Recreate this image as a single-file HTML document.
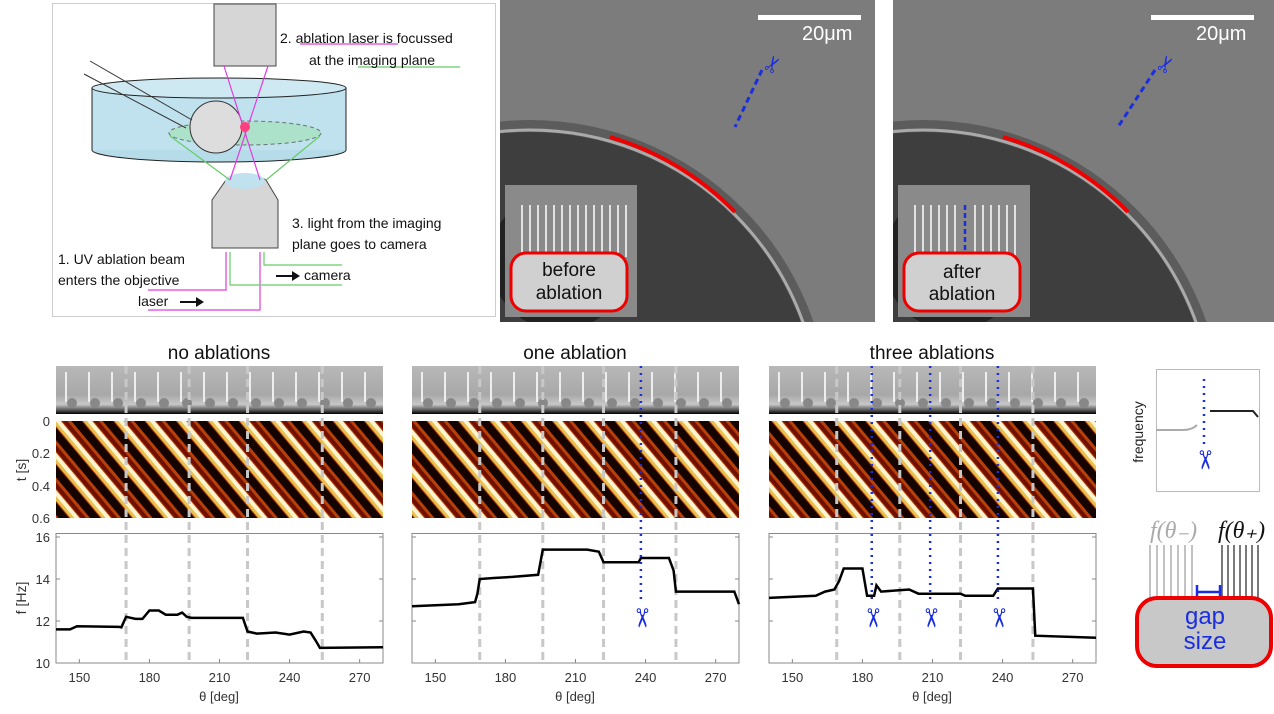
<!DOCTYPE html>
<html><head><meta charset="utf-8"><style>
html,body{margin:0;padding:0;background:#fff;}
svg{display:block;font-family:"Liberation Sans",sans-serif;}
</style></head><body>
<svg id="s" width="1274" height="714" viewBox="0 0 1274 714" xmlns="http://www.w3.org/2000/svg">
<defs>
<pattern id="kym" width="24" height="24" patternUnits="userSpaceOnUse" patternTransform="rotate(-40)">
<rect width="24" height="24" fill="#b8400a"/>
<rect width="8" height="24" fill="#150300"/>
<rect x="9" width="3" height="24" fill="#e8c050"/>
<rect x="12" width="4" height="24" fill="#fff4d0"/>
<rect x="17" width="4" height="24" fill="#701000"/>
</pattern>
<linearGradient id="strip" x1="0" y1="0" x2="0" y2="1">
<stop offset="0" stop-color="#b8b8b8"/><stop offset="0.6" stop-color="#a8a8a8"/><stop offset="0.8" stop-color="#c8c8c8"/><stop offset="0.92" stop-color="#555"/><stop offset="1" stop-color="#000"/>
</linearGradient>
<clipPath id="c1"><rect x="500" y="0" width="375" height="322"/></clipPath>
<clipPath id="c2"><rect x="893" y="0" width="381" height="322"/></clipPath>
</defs>

<!-- top-left diagram -->
<rect x="52.5" y="3.5" width="443" height="313" fill="#fff" stroke="#ccc"/>
<ellipse cx="219" cy="150" rx="127" ry="12" fill="#b6dcea" stroke="#222"/>
<rect x="92" y="88" width="254" height="62" fill="#bfe2ee"/>
<ellipse cx="219" cy="88" rx="127" ry="10" fill="#cfe9f3" stroke="#222"/>
<line x1="92" y1="88" x2="92" y2="150" stroke="#222"/><line x1="346" y1="88" x2="346" y2="150" stroke="#222"/>
<ellipse cx="245" cy="133" rx="76" ry="12" fill="#a7e3c0" opacity="0.8" stroke="#555" stroke-dasharray="4,3"/>
<circle cx="216" cy="127" r="26" fill="#ddd" stroke="#333"/>
<line x1="90" y1="61" x2="192" y2="120" stroke="#333"/><line x1="84" y1="74" x2="186" y2="128" stroke="#333"/>
<rect x="214" y="4" width="62" height="62" fill="#d6d6d6" stroke="#444"/>
<path d="M226 180 Q245 168 266 180 L278 200 L278 248 L212 248 L212 200 Z" fill="#d6d6d6" stroke="#444"/>
<ellipse cx="245" cy="181" rx="20" ry="8" fill="#bfe2ee"/>
<g stroke="#e03ce0" fill="none" stroke-width="1.2"><line x1="224" y1="66" x2="260" y2="180"/><line x1="268" y1="66" x2="230" y2="180"/>
<polyline points="226,252 226,290 148,290"/><polyline points="260,252 260,310 148,310"/><line x1="300" y1="44" x2="398" y2="44"/></g>
<g stroke="#66cc66" fill="none" stroke-width="1.2"><line x1="170" y1="136" x2="230" y2="180"/><line x1="320" y1="136" x2="266" y2="180"/>
<polyline points="230,252 230,285 342,285"/><polyline points="264,252 264,265 342,265"/><line x1="358" y1="67" x2="460" y2="67"/></g>
<circle cx="245" cy="127" r="5" fill="#ff4080"/>
<g font-size="14" fill="#111"><text x="280" y="43">2. ablation laser is focussed</text><text x="309" y="65">at the imaging plane</text>
<text x="292" y="228">3. light from the imaging</text><text x="292" y="249">plane goes to camera</text>
<text x="58" y="264">1. UV ablation beam</text><text x="58" y="285">enters the objective</text>
<text x="138" y="306">laser</text><text x="304" y="280">camera</text></g>
<path d="M180 301 h16 v-4 l8 5 -8 5 v-4 h-16z" fill="#111"/><path d="M276 275 h16 v-4 l8 5 -8 5 v-4 h-16z" fill="#111"/>

<!-- micrographs -->
<g clip-path="url(#c1)">
<rect x="500" y="0" width="375" height="322" fill="#7c7c7c"/>
<circle cx="530" cy="420" r="300" fill="#5c5c5c"/>
<circle cx="530" cy="420" r="288" fill="#3e3e3e"/>
<circle cx="560" cy="260" r="70" fill="#222"/>
<circle cx="530" cy="420" r="290" fill="none" stroke="#aaa" stroke-width="3"/>
</g>
<g clip-path="url(#c2)">
<rect x="893" y="0" width="381" height="322" fill="#7c7c7c"/>
<circle cx="923" cy="420" r="300" fill="#5c5c5c"/>
<circle cx="923" cy="420" r="288" fill="#3e3e3e"/>
<circle cx="953" cy="260" r="70" fill="#222"/>
<circle cx="923" cy="420" r="290" fill="none" stroke="#aaa" stroke-width="3"/>
</g>
<path d="M610 137 A290 290 0 0 1 735 212" fill="none" stroke="#e00" stroke-width="4"/>
<path d="M1003 137 A290 290 0 0 1 1128 212" fill="none" stroke="#e00" stroke-width="4"/>
<g fill="#fff"><rect x="758" y="15" width="103" height="5"/><rect x="1151" y="15" width="103" height="5"/></g>
<g font-size="20" fill="#fff"><text x="802" y="40">20μm</text><text x="1196" y="40">20μm</text></g>
<g stroke="#1a2ee0" stroke-width="3" stroke-dasharray="6,4"><line x1="762" y1="70" x2="735" y2="127"/><line x1="1155" y1="70" x2="1118" y2="127"/></g>
<text x="768" y="80" font-size="22" fill="#1a2ee0" transform="rotate(-60 768 72)">✂</text>
<text x="1161" y="80" font-size="22" fill="#1a2ee0" transform="rotate(-60 1161 72)">✂</text>
<rect x="505" y="185" width="132" height="132" fill="#8a8a8a"/>
<rect x="898" y="185" width="132" height="132" fill="#8a8a8a"/>
<g stroke="#fff" stroke-width="1.5"><path d="M522 205v52M530 205v52M538 205v52M546 205v52M554 205v52M562 205v52M570 205v52M578 205v52M586 205v52M594 205v52M602 205v52M610 205v52M618 205v52M626 205v52"/>
<path d="M915 205v52M923 205v52M931 205v52M939 205v52M947 205v52M955 205v52M975 205v52M983 205v52M991 205v52M999 205v52M1007 205v52M1015 205v52"/></g>
<line x1="965" y1="205" x2="965" y2="257" stroke="#1a2ee0" stroke-width="2.5" stroke-dasharray="5,3"/>
<rect x="511" y="253" width="116" height="58" rx="15" fill="#d0d0d0" stroke="#e00" stroke-width="3"/>
<rect x="904" y="253" width="116" height="58" rx="15" fill="#d0d0d0" stroke="#e00" stroke-width="3"/>
<g font-size="19" fill="#111" text-anchor="middle"><text x="569" y="276">before</text><text x="569" y="299">ablation</text><text x="962" y="278">after</text><text x="962" y="300">ablation</text></g>

<g id="panels"></g>

<!-- right schematic -->
<rect x="1156.5" y="369.5" width="103" height="122" fill="#fff" stroke="#bbb"/>
<text transform="translate(1143,432) rotate(-90)" font-size="14" fill="#222" text-anchor="middle">frequency</text>
<path d="M1156 430 H1183 Q1192 430 1197 425" fill="none" stroke="#aaa" stroke-width="2"/>
<path d="M1210 411 H1253 L1258 417" fill="none" stroke="#222" stroke-width="2"/>
<line x1="1204" y1="379" x2="1204" y2="445" stroke="#1a2ee0" stroke-width="2.5" stroke-dasharray="2,5"/>
<text x="1204" y="468" font-size="26" fill="#1a2ee0" text-anchor="middle" transform="rotate(90 1204 460)">✂</text>
<text x="1150" y="538" font-size="24" font-family="Liberation Serif" font-style="italic" fill="#aaa">f(θ₋)</text>
<text x="1218" y="538" font-size="24" font-family="Liberation Serif" font-style="italic" fill="#111">f(θ₊)</text>
<g stroke="#999" stroke-width="1.2"><path d="M1150 545v60M1157 545v60M1164 545v60M1171 545v60M1178 545v60M1185 545v60M1192 545v60"/></g>
<g stroke="#222" stroke-width="1.2"><path d="M1222 545v60M1228 545v60M1234 545v60M1240 545v60M1246 545v60M1252 545v60M1258 545v60"/></g>
<path d="M1197 585v14M1197 592h23M1220 585v14" stroke="#1a2ee0" stroke-width="2.5" fill="none"/>
<rect x="1137" y="598" width="134" height="68" rx="20" fill="#c8c8c8" stroke="#e00" stroke-width="4"/>
<g font-size="24" fill="#1a2ee0" text-anchor="middle"><text x="1205" y="624">gap</text><text x="1205" y="649">size</text></g>
</svg>
<script>
var NS="http://www.w3.org/2000/svg",g=document.getElementById("panels");
function el(t,a,p){var e=document.createElementNS(NS,t);for(var k in a)e.setAttribute(k,a[k]);(p||g).appendChild(e);return e;}
function txt(x,y,s,a){var e=el("text",Object.assign({x:x,y:y},a||{}));e.textContent=s;return e;}
var P=[{x:56,title:"no ablations",gd:[170,197,222,254],bd:[],
d:[[140,11.6],[146,11.6],[149,11.75],[167,11.72],[168,11.7],[170,12.2],[174,12.1],[177,12.1],[180,12.5],[184,12.5],[187,12.3],[192,12.3],[194,12.4],[196,12.2],[198,12.15],[220,12.15],[222,11.5],[226,11.4],[234,11.45],[240,11.35],[246,11.5],[249,11.45],[251,11.1],[253,10.72],[280,10.75]]},
{x:412,title:"one ablation",gd:[169,196,222,253],bd:[238],
d:[[140,12.7],[160,12.8],[167,12.9],[168,13.3],[169,14.0],[175,14.05],[183,14.1],[194,14.2],[196,15.4],[215,15.4],[220,15.3],[222,14.8],[237,14.8],[238,15.0],[250,15.0],[252,14.4],[253,13.4],[278,13.4],[280,12.8]]},
{x:769,title:"three ablations",gd:[169,196,222,253],bd:[184,209,238],
d:[[140,13.1],[160,13.2],[164,13.4],[168,13.5],[170,13.9],[172,14.5],[180,14.5],[182,13.2],[185,13.2],[186,13.7],[188,13.4],[200,13.5],[204,13.3],[222,13.3],[224,13.2],[236,13.2],[238,13.55],[253,13.55],[254,11.3],[280,11.2]]}];
P.forEach(function(p){
 var X=function(d){return p.x+(d-140)*327/140;},Y=function(f){return 663-(f-10)*21;};
 txt(p.x+163,359,p.title,{"font-size":19,"text-anchor":"middle",fill:"#111"});
 el("rect",{x:p.x,y:366,width:327,height:48,fill:"url(#strip)"});
 for(var i=0;i<14;i++){el("line",{x1:p.x+10+i*23,y1:372,x2:p.x+10+i*23,y2:402,stroke:"#eee","stroke-width":2});el("circle",{cx:p.x+16+i*23,cy:403,r:5,fill:"#888"});}
 el("rect",{x:p.x,y:421,width:327,height:97,fill:"url(#kym)"});
 el("rect",{x:p.x,y:533.5,width:327,height:129.5,fill:"#fff",stroke:"#888"});
 [[0,421],[0.2,453],[0.4,486],[0.6,518]].forEach(function(t){if(p.x==56)txt(50,t[1]+5,""+t[0],{"font-size":13,"text-anchor":"end",fill:"#333"});});
 [10,12,14,16].forEach(function(f){el("line",{x1:p.x,y1:Y(f),x2:p.x+4,y2:Y(f),stroke:"#888"});el("line",{x1:p.x+323,y1:Y(f),x2:p.x+327,y2:Y(f),stroke:"#888"});
  if(p.x==56)txt(50,Y(f)+5,""+f,{"font-size":13,"text-anchor":"end",fill:"#333"});});
 [150,180,210,240,270].forEach(function(d){el("line",{x1:X(d),y1:663,x2:X(d),y2:659,stroke:"#888"});txt(X(d),682,""+d,{"font-size":13,"text-anchor":"middle",fill:"#333"});});
 txt(p.x+163,701,"θ [deg]",{"font-size":13,"text-anchor":"middle",fill:"#333"});
 p.gd.forEach(function(d){el("line",{x1:X(d),y1:366,x2:X(d),y2:663,stroke:"#c8c8c8","stroke-width":3,"stroke-dasharray":"8,5"});});
 el("polyline",{points:p.d.map(function(q){return X(q[0])+","+Y(q[1]);}).join(" "),fill:"none",stroke:"#000","stroke-width":2.5});
 p.bd.forEach(function(d){el("line",{x1:X(d),y1:366,x2:X(d),y2:600,stroke:"#1a2ee0","stroke-width":2.5,"stroke-dasharray":"2,5"});
  txt(X(d),626,"✂",{"font-size":26,"text-anchor":"middle",fill:"#1a2ee0",transform:"rotate(90 "+X(d)+" 618)"});});
});
txt(0,0,"t [s]",{"font-size":14,"text-anchor":"middle",fill:"#333",transform:"translate(26,470) rotate(-90)"});
txt(0,0,"f [Hz]",{"font-size":14,"text-anchor":"middle",fill:"#333",transform:"translate(26,598) rotate(-90)"});
</script>
</body></html>
